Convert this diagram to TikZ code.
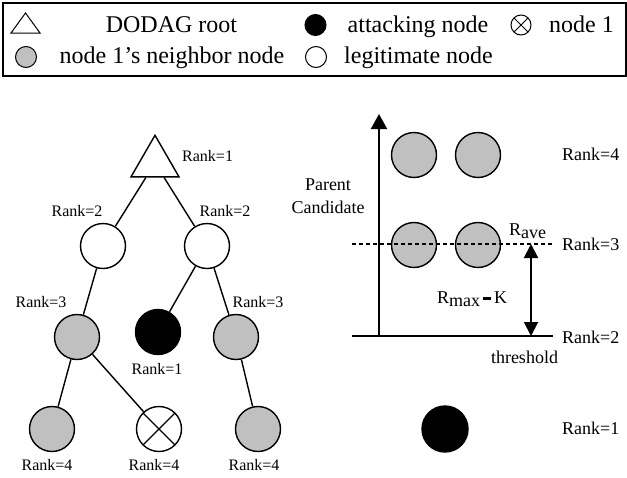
\documentclass[tikz,border=0pt]{standalone}
\usepackage{fontspec}
\setmainfont{Liberation Serif}
\usetikzlibrary{shapes.geometric,arrows.meta}
\definecolor{nodegray}{RGB}{192,192,192}
\begin{document}
\begin{tikzpicture}[x=1pt,y=-1pt,
  ring/.style={circle, draw, line width=1.4pt, minimum size=45pt, inner sep=0pt},
  grayring/.style={ring, fill=nodegray},
  whitering/.style={ring, fill=white},
  blackring/.style={ring, fill=black},
  crossmark/.style={path picture={\draw[line width=#1]
      (path picture bounding box.north west) -- (path picture bounding box.south east)
      (path picture bounding box.north east) -- (path picture bounding box.south west);}},
  crossring/.style={ring, fill=white, crossmark=1.4pt},
  legdot/.style={circle, draw, line width=1pt, minimum size=21pt, inner sep=0pt},
  link/.style={line width=1.4pt},
  treelab/.style={font=\fontsize{16}{19}\selectfont, inner sep=0pt},
  axislab/.style={font=\fontsize{18}{21}\selectfont, inner sep=0pt},
  leglab/.style={font=\fontsize{24}{28}\selectfont, inner sep=0pt},
  axisarrow/.style={line width=2pt, -{Triangle[length=15pt,width=16pt]}},
  gaparrow/.style={line width=2pt, {Triangle[length=14pt,width=14pt]}-{Triangle[length=14pt,width=14pt]}},
]
\useasboundingbox (0,0) rectangle (627,477);

% ---------- legend ----------
\draw[line width=1.2pt] (3,3) rectangle (626,76);
\draw[line width=1pt] (11,33) -- (25.5,13) -- (40,33) -- cycle;
\node (lgroot) [leglab, anchor=base] at (171.5,32) {DODAG root};
\node (lgatkdot) [legdot, fill=black] at (315.5,25) {};
\node (lgatk) [leglab, anchor=base] at (418,32) {attacking node};
\node (lgcross) [legdot, fill=white, minimum size=20pt, crossmark=1pt] at (521,25) {};
\node (lgn1) [leglab, anchor=base west] at (549,32) {node 1};
\node (lggraydot) [legdot, fill=nodegray] at (26,57) {};
\node (lgnb) [leglab, anchor=base] at (172,63) {node 1’s neighbor node};
\node (lgwhitedot) [legdot, fill=white] at (316,57) {};
\node (lglegit) [leglab, anchor=base] at (418.5,63) {legitimate node};

% ---------- DODAG tree ----------
\node (root) [regular polygon, regular polygon sides=3, draw, line width=1.4pt,
  minimum size=55.4pt, inner sep=0pt, fill=white] at (155,163) {};
\node (w1) [whitering] at (103,246) {};
\node (w2) [whitering] at (207,246) {};
\node (g3a) [grayring] at (77,337) {};
\node (atk) [blackring] at (158,332) {};
\node (g3b) [grayring] at (236,337) {};
\node (g4a) [grayring] at (52,429) {};
\node (n1) [crossring] at (159,429) {};
\node (g4b) [grayring] at (258,429) {};

\draw[link] (root) -- (w1);
\draw[link] (root) -- (w2);
\draw[link] (w1) -- (g3a);
\draw[link] (w2) -- (atk);
\draw[link] (w2) -- (g3b);
\draw[link] (g3a) -- (g4a);
\draw[link] (g3a) -- (n1);
\draw[link] (g3b) -- (g4b);

\node (rroot) [treelab, anchor=base west] at (182,161) {Rank=1};
\node (rw1) [treelab, anchor=base] at (77,216) {Rank=2};
\node (rw2) [treelab, anchor=base] at (225,216) {Rank=2};
\node (rg3a) [treelab, anchor=base] at (41,307) {Rank=3};
\node (rg3b) [treelab, anchor=base] at (258,307) {Rank=3};
\node (ratk) [treelab, anchor=base] at (157,374) {Rank=1};
\node (rg4a) [treelab, anchor=base] at (47,470) {Rank=4};
\node (rn1) [treelab, anchor=base] at (154,470) {Rank=4};
\node (rg4b) [treelab, anchor=base] at (254,470) {Rank=4};

% ---------- rank scale ----------
\coordinate (axbot) at (379,336);
\coordinate (axtop) at (379,114);
\coordinate (thleft) at (352,336);
\coordinate (thright) at (553,336);
\coordinate (avleft) at (352,244);
\coordinate (avright) at (553,244);
\coordinate (gaptop) at (531,244);
\coordinate (gapbot) at (531,336);

\node (p4a) [grayring] at (414,155) {};
\node (p4b) [grayring] at (478,155) {};
\node (p3a) [grayring] at (414,245) {};
\node (p3b) [grayring] at (478,245) {};
\node (patk) [blackring, minimum size=46pt] at (445,429) {};

\draw[line width=2.6pt] (thleft) -- (thright);
\draw[axisarrow] (axbot) -- (axtop);
\draw[line width=1.8pt, dash pattern=on 4pt off 3pt] (avleft) -- (avright);
\draw[gaparrow] (gapbot) -- (gaptop);

\node (pc1) [axislab, anchor=base] at (328,190) {Parent};
\node (pc2) [axislab, anchor=base] at (328,213) {Candidate};
\node (q4) [axislab, anchor=base west] at (562,160) {Rank=4};
\node (q3) [axislab, anchor=base west] at (562,250) {Rank=3};
\node (q2) [axislab, anchor=base west] at (562,343) {Rank=2};
\node (q1) [axislab, anchor=base west] at (562,434) {Rank=1};
\node (thlab) [axislab, anchor=base] at (524.5,363) {threshold};
\node (rave) [axislab, anchor=base west] at (509,235) {R\raisebox{-3pt}{ave}};
\node (rmax) [axislab, anchor=base west] at (437,303)
  {R\raisebox{-3.5pt}{max}\hspace{3pt}\rule[3.5pt]{8pt}{2.4pt}\hspace{3pt}K};
\end{tikzpicture}
\end{document}
